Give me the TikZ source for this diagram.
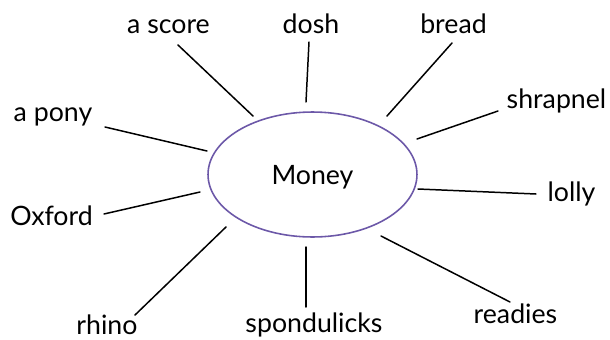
\documentclass[tikz,border=0pt]{standalone}
\usepackage{fontspec}
\setmainfont{Lato}
\usepackage{tikz}
\usetikzlibrary{shapes.geometric}
\definecolor{moneypurple}{RGB}{108,88,168}

\begin{document}
\begin{tikzpicture}[x=0.02cm,y=-0.02cm,font=\fontsize{15.2}{18}\selectfont,
  word/.style={anchor=base,inner sep=0pt},
  spoke/.style={line width=0.85pt,line cap=round}]
\useasboundingbox (0,0) rectangle (610,339);
% centre
\node[ellipse,draw=moneypurple,line width=0.9pt,minimum width=4.18cm,minimum height=2.5cm,
  inner sep=0pt,text height=1.3em,text depth=0.2em] (money) at (312.5,174.5) {Money};
% words round it
\node[word] (score) at (168.5,33) {a score};
\node[word] (dosh) at (311,33) {dosh};
\node[word] (bread) at (453.5,33) {bread};
\node[word] (shrapnel) at (556.5,108) {shrapnel};
\node[word] (pony) at (53,121) {a pony};
\node[word] (lolly) at (571.5,201) {lolly};
\node[word] (oxford) at (51.5,225) {Oxford};
\node[word] (rhino) at (107,334.5) {rhino};
\node[word] (spondulicks) at (314,332) {spondulicks};
\node[word] (readies) at (515.5,323) {readies};
% ends of the spokes
\coordinate (score-out) at (178,45);   \coordinate (score-in) at (253,116);
\coordinate (dosh-out) at (309,42);    \coordinate (dosh-in) at (306,102);
\coordinate (bread-out) at (452,43);   \coordinate (bread-in) at (387,116);
\coordinate (shrapnel-out) at (498,111); \coordinate (shrapnel-in) at (417,139);
\coordinate (pony-out) at (105,127);   \coordinate (pony-in) at (207,151);
\coordinate (lolly-out) at (536,194);  \coordinate (lolly-in) at (418,189);
\coordinate (oxford-out) at (104,214); \coordinate (oxford-in) at (200,192);
\coordinate (rhino-out) at (135,315);  \coordinate (rhino-in) at (226,227);
\coordinate (spond-out) at (306,307);  \coordinate (spond-in) at (306,247);
\coordinate (readies-out) at (510,302); \coordinate (readies-in) at (381,236);
\draw[spoke] (score-out) -- (score-in);
\draw[spoke] (dosh-out) -- (dosh-in);
\draw[spoke] (bread-out) -- (bread-in);
\draw[spoke] (shrapnel-out) -- (shrapnel-in);
\draw[spoke] (pony-out) -- (pony-in);
\draw[spoke] (lolly-out) -- (lolly-in);
\draw[spoke] (oxford-out) -- (oxford-in);
\draw[spoke] (rhino-out) -- (rhino-in);
\draw[spoke] (spond-out) -- (spond-in);
\draw[spoke] (readies-out) -- (readies-in);
\end{tikzpicture}
\end{document}
